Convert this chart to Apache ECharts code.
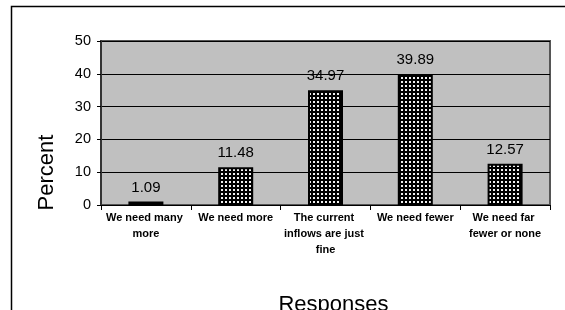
<!DOCTYPE html>
<html>
<head>
<meta charset="utf-8">
<script src="https://cdn.jsdelivr.net/npm/echarts@6/dist/echarts.min.js"></script>
<style>
html,body{margin:0;padding:0;background:#fff;}
#chart{width:565px;height:310px;}
</style>
</head>
<body>
<div id="chart"></div>
<script>
var categories = ["We need many more", "We need more", "The current inflows are just fine", "We need fewer", "We need far fewer or none"];
var percentValues = [1.09, 11.48, 34.97, 39.89, 12.57];
var yTicks = [0, 10, 20, 30, 40, 50];
var yAxisTitle = "Percent";
var xAxisTitle = "Responses";

// dotted fill pattern (white dots on black)
var tile = document.createElement('canvas');
tile.width = 4; tile.height = 4;
var tctx = tile.getContext('2d');
tctx.fillStyle = '#000';
tctx.fillRect(0, 0, 4, 4);
tctx.fillStyle = '#f2f2f2';
tctx.fillRect(1, 1, 2, 2);

var chart = echarts.init(document.getElementById('chart'), null, {renderer: 'canvas'});
chart.setOption({
  animation: false,
  backgroundColor: '#ffffff',
  grid: {
    left: 101, right: 15, top: 41, bottom: 105,
    show: true, backgroundColor: '#c0c0c0', borderColor: '#555555', borderWidth: 2,
    containLabel: false
  },
  xAxis: {
    type: 'category',
    data: categories,
    axisLine: {show: true, lineStyle: {color: '#000', width: 1}},
    axisTick: {show: true, alignWithLabel: false, length: 5, lineStyle: {color: '#000'}},
    axisLabel: {
      interval: 0, margin: 5, width: 88, overflow: 'break',
      fontFamily: 'Liberation Sans, Arial, sans-serif', fontSize: 11, fontWeight: 'bold',
      lineHeight: 16, color: '#000'
    },
    splitLine: {show: false}
  },
  yAxis: {
    type: 'value',
    min: yTicks[0], max: yTicks[yTicks.length - 1], interval: 10,
    axisLine: {show: true, lineStyle: {color: '#333', width: 2}},
    axisTick: {show: true, length: 4, lineStyle: {color: '#000'}},
    axisLabel: {margin: 10, fontFamily: 'Liberation Sans, Arial, sans-serif', fontSize: 14.5, color: '#000'},
    splitLine: {show: true, lineStyle: {color: '#000', width: 1}}
  },
  series: [{
    type: 'bar',
    data: percentValues,
    barWidth: 35,
    itemStyle: {
      color: {image: tile, repeat: 'repeat'},
      borderColor: '#000', borderWidth: 2
    },
    label: {
      show: true, position: 'top', distance: 6.5,
      fontFamily: 'Liberation Sans, Arial, sans-serif', fontSize: 15, color: '#000',
      formatter: function (p) { return p.value.toFixed(2); }
    }
  }],
  graphic: [
    {type: 'rect', shape: {x: 11.5, y: 6.5, width: 600, height: 400}, style: {fill: null, stroke: '#000', lineWidth: 1.5}, silent: true, z: -10},
    {type: 'text', x: 47, y: 172.5, rotation: Math.PI / 2,
      style: {text: yAxisTitle, font: '22px "Liberation Sans", Arial, sans-serif', fill: '#000', textAlign: 'center', textVerticalAlign: 'middle'}},
    {type: 'text', x: 333.5, y: 305,
      style: {text: xAxisTitle, font: '22px "Liberation Sans", Arial, sans-serif', fill: '#000', textAlign: 'center', textVerticalAlign: 'middle'}}
  ]
});
</script>
</body>
</html>
